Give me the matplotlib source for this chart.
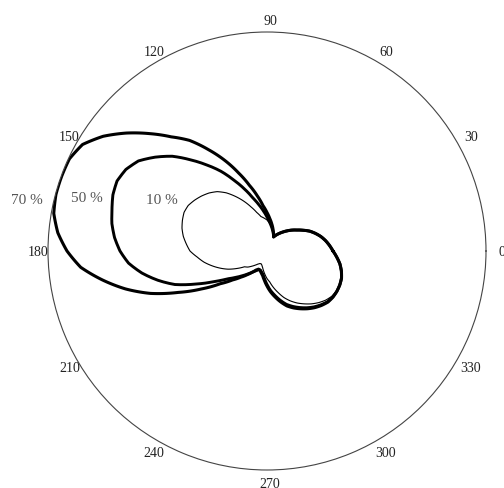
import numpy as np
import matplotlib.pyplot as plt
from matplotlib.transforms import offset_copy

plt.rcParams["font.family"] = ["Liberation Serif", "DejaVu Serif"]

# angle of each sample, degrees
theta_deg = list(range(0, 360, 5))

# radius (outer circle = R_MAX)
r_70 = [66, 62.8, 59.5, 55.8, 51.5, 47, 41.5, 36.5, 32.5, 28.5, 24.8, 21.5, 18.5, 15.5,
        19, 23, 27.5, 32.5, 38.5, 45.5, 56, 68, 83, 100, 117, 135, 149, 166, 183.5, 200,
        213, 218, 218.5, 218.5, 216.5, 210, 200, 187, 167, 146.5, 124, 98, 76, 57, 45,
        37, 31, 26, 22, 20,
        20.5, 22.5, 25, 29.5, 35, 41, 46.7, 52.7, 58.5, 62.8, 66.7, 70.5, 74, 77, 79.5,
        80.5, 80.7, 80.3, 79.3, 77, 74, 70]
r_50 = [66, 62.8, 59.5, 55.8, 51.5, 47, 41.5, 36.5, 32.5, 28.5, 24.8, 21.5, 18.5, 15.5,
        18.5, 21.5, 25, 29, 34, 40, 47, 55, 66, 78, 92, 105, 119, 134, 146, 157, 163,
        165.5, 164, 160.5, 157.5, 153, 147, 139, 127, 113, 98, 78, 61, 48.5, 41, 35, 30,
        26, 23, 20.5,
        20, 21.5, 23.5, 28, 33.5, 39.5, 45, 51, 56.8, 61.2, 65.3, 69.3, 73, 76.2, 79,
        80.2, 80.6, 80.3, 79.3, 77, 74, 70]
r_10 = [66, 62.8, 59.5, 55.8, 51.5, 47, 41.5, 36.5, 32.5, 28.5, 24.8, 21.5, 18.5, 15.5,
        18, 21, 24.5, 28, 31, 33, 35, 40, 47, 55, 63, 71, 77.5, 82, 85.5, 88.5, 91,
        91.5, 90, 88, 85, 81, 77, 70, 64, 57, 50, 43, 35, 27.5, 25, 21.5, 18.5, 16,
        14.5, 14,
        15, 17, 20, 23.5, 27.5, 31, 37, 43, 49.5, 55, 60, 64.5, 69, 73, 76.5, 79,
        80.3, 80.3, 79.3, 77, 74, 70]

labels = ["10 %", "50 %", "70 %"]
R_MAX = 219

tick_angles = list(range(0, 360, 30))

fig = plt.figure(figsize=(5.04, 4.89), dpi=100)
ax = fig.add_axes([48 / 504, 18 / 489, 438 / 504, 438 / 489], projection="polar")

# close each curve at 360 deg so the last segment runs forward
th = np.deg2rad(theta_deg + [360])
for r, lw in [(r_70, 2.2), (r_50, 2.1), (r_10, 0.8)]:
    (ln,) = ax.plot(th, r + [r[0]], color="black", lw=lw, solid_joinstyle="round")
    # let the polar transform bend each segment instead of a straight chord
    ln.get_path()._interpolation_steps = 12

ax.set_ylim(0, R_MAX)
ax.set_yticks([])
ax.set_xticks(np.deg2rad(tick_angles))
ax.set_xticklabels([])
ax.tick_params(length=0)
ax.grid(False)
ax.spines["polar"].set_color("#444444")
ax.spines["polar"].set_linewidth(0.8)

shifted = offset_copy(ax.transData, fig=fig, x=3, y=-1, units="dots")
for a in tick_angles:
    ax.text(np.deg2rad(a), R_MAX * 1.058, str(a), ha="center", va="center",
            fontsize=10, color="#222222", clip_on=False, transform=shifted)

# curve labels, placed left of each lobe
for lab, (x, y) in zip(labels, [(162, 200), (87, 198), (26.5, 200)]):
    fig.text(x / 504, 1 - y / 489, lab, ha="center", va="center",
             fontsize=11, color="#555555")

fig.savefig("out.png", dpi=100)
